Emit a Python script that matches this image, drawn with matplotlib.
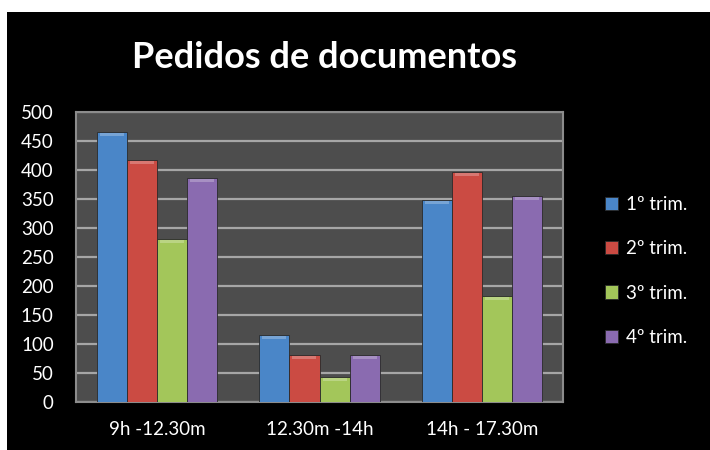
import numpy as np
import matplotlib.pyplot as plt
from matplotlib.patches import Rectangle

# Data
categories = ['9h -12.30m', '12.30m -14h', '14h - 17.30m']
series_names = ['1º trim.', '2º trim.', '3º trim.', '4º trim.']
trim1 = [465, 116, 348]
trim2 = [418, 81, 397]
trim3 = [281, 43, 183]
trim4 = [386, 81, 355]
yticks = [0, 50, 100, 150, 200, 250, 300, 350, 400, 450, 500]

colors = ['#4a86c8', '#cb4b43', '#a3c65a', '#8a6bb0']
plt.rcParams['font.family'] = ['Lato', 'DejaVu Sans']

fig = plt.figure(figsize=(7.1, 4.5), dpi=100)
fig.patch.set_facecolor('white')
# black panel behind the chart
fig.patches.append(Rectangle((7/710, 0), 703/710, 438/450, transform=fig.transFigure,
                             facecolor='black', edgecolor='none', zorder=-5))

ax = fig.add_axes([76/710, 48/450, 487/710, 290/450])
ax.set_facecolor('#4d4d4d')

x = np.arange(len(categories))
w = 0.185
all_series = [trim1, trim2, trim3, trim4]
for i, vals in enumerate(all_series):
    pos = x + (i - 1.5) * w
    bars = ax.bar(pos, vals, width=w, color=colors[i], edgecolor='#2a2a2a',
                  linewidth=0.6, label=series_names[i], zorder=3)
    # light cap to mimic the bevel on top of each bar
    for b in bars:
        h = b.get_height()
        ax.add_patch(Rectangle((b.get_x() + w*0.1, h - 7), w*0.8, 5,
                               facecolor='white', alpha=0.25, edgecolor='none', zorder=4))

ax.set_xlim(-0.5, 2.5)
ax.set_ylim(0, 500)
ax.set_yticks(yticks)
ax.set_xticks(x)
ax.set_xticklabels(categories)
ax.yaxis.grid(True, color='#a6a6a6', linewidth=1.6, zorder=1)
ax.set_axisbelow(True)
ax.tick_params(axis='both', length=0, colors='white', labelsize=13.5)
ax.tick_params(axis='y', pad=16)
ax.tick_params(axis='x', pad=14)
for s in ax.spines.values():
    s.set_color('#8c8c8c')
    s.set_linewidth(1.5)

fig.text(325/710, 1 - 58/450, 'Pedidos de documentos', color='white',
         fontsize=26, fontweight='bold', ha='center', va='center')

leg = fig.legend(loc='center left', bbox_to_anchor=(588/710, 1 - 271/450),
                 frameon=False, fontsize=13.5, labelcolor='white',
                 handlelength=0.7, handleheight=0.7, handletextpad=0.4,
                 labelspacing=1.45)

fig.savefig('out.png', dpi=100, facecolor=fig.get_facecolor())
